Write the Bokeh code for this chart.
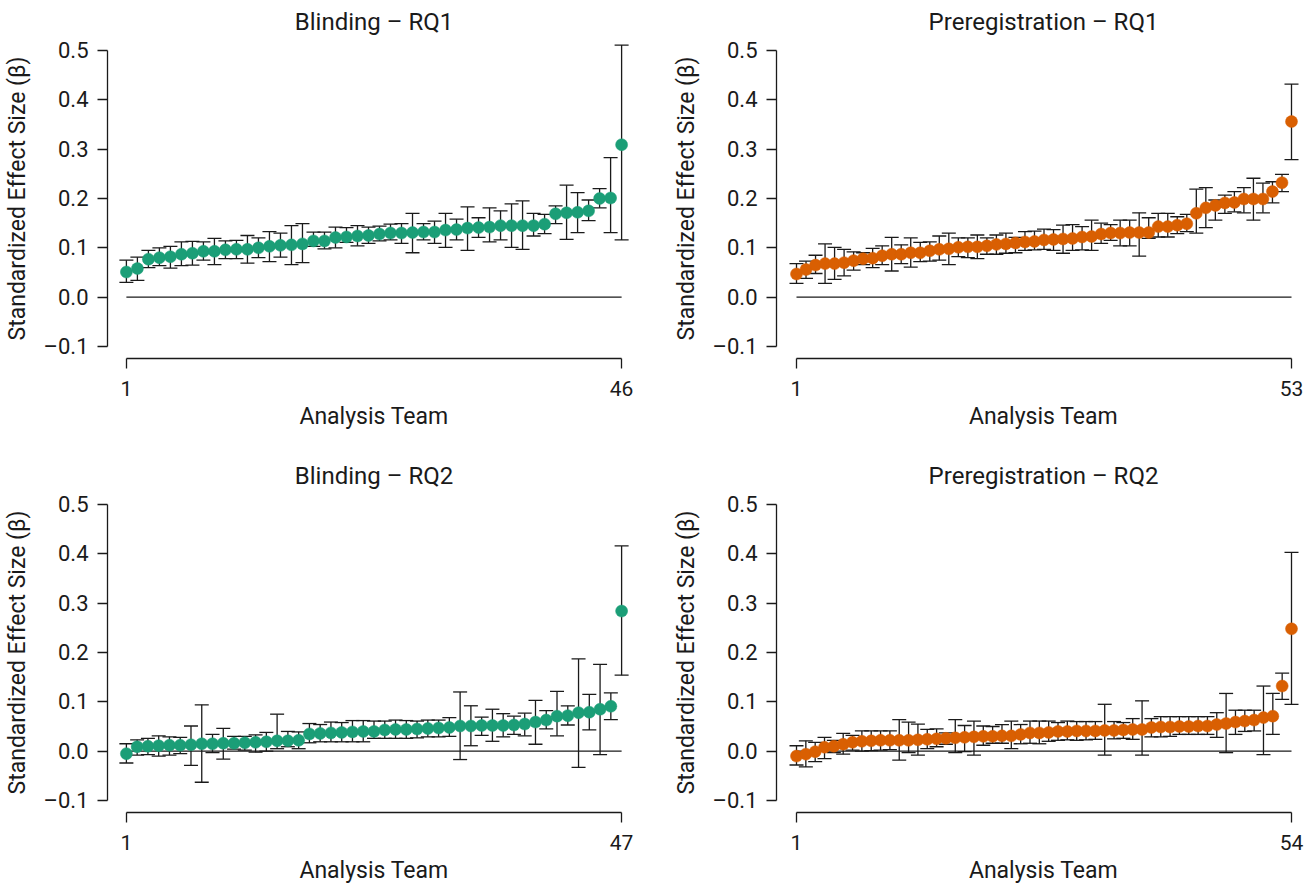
from bokeh.plotting import figure
from bokeh.models import (ColumnDataSource, Range1d, FixedTicker, Whisker, TeeHead,
                          CustomJSTickFormatter)
from bokeh.layouts import column, row
from bokeh.embed import file_html
from bokeh.resources import INLINE

# ---------------- data ----------------
titles = ["Blinding \u2013 RQ1", "Preregistration \u2013 RQ1",
          "Blinding \u2013 RQ2", "Preregistration \u2013 RQ2"]
x_label = "Analysis Team"
y_label = "Standardized Effect Size (\u03b2)"
y_ticks = [-0.1, 0.0, 0.1, 0.2, 0.3, 0.4, 0.5]

blind_rq1_est = [0.051, 0.058, 0.077, 0.080, 0.082, 0.087, 0.089, 0.093, 0.093, 0.096,
                 0.097, 0.097, 0.100, 0.103, 0.105, 0.106, 0.108, 0.114, 0.114, 0.121,
                 0.122, 0.124, 0.125, 0.128, 0.130, 0.130, 0.131, 0.132, 0.132, 0.136,
                 0.137, 0.140, 0.141, 0.142, 0.145, 0.145, 0.145, 0.145, 0.148, 0.169,
                 0.171, 0.172, 0.175, 0.200, 0.201, 0.309]
blind_rq1_lo = [0.030, 0.034, 0.060, 0.064, 0.059, 0.064, 0.065, 0.075, 0.066, 0.078,
                0.078, 0.069, 0.080, 0.072, 0.081, 0.066, 0.070, 0.103, 0.098, 0.100,
                0.111, 0.104, 0.109, 0.114, 0.116, 0.109, 0.090, 0.116, 0.109, 0.101,
                0.116, 0.095, 0.121, 0.112, 0.116, 0.101, 0.097, 0.124, 0.129, 0.149,
                0.117, 0.131, 0.155, 0.181, 0.131, 0.116]
blind_rq1_hi = [0.075, 0.081, 0.095, 0.100, 0.103, 0.112, 0.113, 0.112, 0.119, 0.114,
                0.115, 0.125, 0.120, 0.133, 0.130, 0.145, 0.149, 0.132, 0.132, 0.142,
                0.141, 0.145, 0.142, 0.144, 0.148, 0.149, 0.170, 0.149, 0.154, 0.170,
                0.158, 0.183, 0.161, 0.181, 0.175, 0.189, 0.195, 0.170, 0.168, 0.185,
                0.227, 0.212, 0.197, 0.220, 0.283, 0.511]

prereg_rq1_est = [0.047, 0.056, 0.065, 0.068, 0.068, 0.070, 0.074, 0.078, 0.079, 0.084,
                  0.087, 0.087, 0.090, 0.090, 0.094, 0.097, 0.098, 0.101, 0.102, 0.102,
                  0.104, 0.107, 0.108, 0.110, 0.112, 0.113, 0.116, 0.117, 0.118, 0.119,
                  0.122, 0.123, 0.128, 0.130, 0.130, 0.131, 0.131, 0.131, 0.143, 0.143,
                  0.146, 0.149, 0.170, 0.181, 0.186, 0.191, 0.192, 0.199, 0.199, 0.199,
                  0.214, 0.232, 0.356]
prereg_rq1_lo = [0.028, 0.038, 0.048, 0.028, 0.036, 0.043, 0.055, 0.066, 0.060, 0.066,
                 0.053, 0.068, 0.061, 0.072, 0.073, 0.075, 0.066, 0.082, 0.080, 0.078,
                 0.087, 0.087, 0.089, 0.090, 0.095, 0.096, 0.097, 0.095, 0.089, 0.095,
                 0.096, 0.095, 0.109, 0.115, 0.104, 0.104, 0.083, 0.119, 0.122, 0.122,
                 0.129, 0.133, 0.130, 0.141, 0.156, 0.170, 0.173, 0.171, 0.156, 0.171,
                 0.191, 0.214, 0.279]
prereg_rq1_hi = [0.068, 0.073, 0.085, 0.108, 0.101, 0.097, 0.092, 0.090, 0.099, 0.104,
                 0.121, 0.106, 0.120, 0.111, 0.112, 0.124, 0.130, 0.120, 0.120, 0.126,
                 0.120, 0.126, 0.130, 0.121, 0.133, 0.134, 0.138, 0.137, 0.146, 0.147,
                 0.143, 0.156, 0.150, 0.147, 0.156, 0.156, 0.171, 0.161, 0.170, 0.170,
                 0.163, 0.168, 0.219, 0.222, 0.197, 0.207, 0.214, 0.222, 0.241, 0.231,
                 0.234, 0.249, 0.432]

blind_rq2_est = [-0.005, 0.009, 0.010, 0.011, 0.012, 0.012, 0.013, 0.015, 0.015, 0.016,
                 0.016, 0.017, 0.018, 0.019, 0.021, 0.021, 0.022, 0.035, 0.036, 0.037,
                 0.038, 0.039, 0.040, 0.040, 0.043, 0.044, 0.044, 0.045, 0.046, 0.047,
                 0.048, 0.051, 0.051, 0.052, 0.052, 0.052, 0.053, 0.055, 0.059, 0.063,
                 0.071, 0.072, 0.078, 0.079, 0.085, 0.091, 0.284]
blind_rq2_lo = [-0.024, -0.008, -0.007, -0.010, -0.008, -0.005, -0.029, -0.063, -0.003, -0.016,
                0.004, 0.002, -0.002, 0.000, 0.005, 0.009, 0.005, 0.017, 0.019, 0.019,
                0.019, 0.019, 0.019, 0.026, 0.026, 0.026, 0.026, 0.027, 0.029, 0.029,
                0.030, -0.017, 0.011, 0.032, 0.020, 0.029, 0.034, 0.031, 0.014, 0.045,
                0.031, 0.053, -0.033, 0.043, -0.007, 0.064, 0.154]
blind_rq2_hi = [0.015, 0.023, 0.026, 0.031, 0.029, 0.028, 0.051, 0.094, 0.034, 0.046,
                0.030, 0.030, 0.033, 0.038, 0.075, 0.040, 0.039, 0.056, 0.054, 0.059,
                0.058, 0.062, 0.062, 0.061, 0.061, 0.063, 0.062, 0.061, 0.063, 0.063,
                0.068, 0.120, 0.092, 0.069, 0.085, 0.076, 0.071, 0.077, 0.103, 0.082,
                0.121, 0.092, 0.187, 0.115, 0.176, 0.118, 0.416]

prereg_rq2_est = [-0.010, -0.006, -0.001, 0.008, 0.010, 0.014, 0.018, 0.020, 0.021, 0.022,
                  0.022, 0.022, 0.022, 0.023, 0.024, 0.025, 0.026, 0.027, 0.028, 0.029,
                  0.030, 0.030, 0.031, 0.031, 0.034, 0.037, 0.037, 0.038, 0.040, 0.040,
                  0.041, 0.041, 0.041, 0.042, 0.042, 0.043, 0.044, 0.044, 0.048, 0.049,
                  0.049, 0.050, 0.050, 0.051, 0.051, 0.054, 0.056, 0.059, 0.061, 0.063,
                  0.068, 0.071, 0.132, 0.248]
prereg_rq2_lo = [-0.028, -0.032, -0.021, -0.015, -0.003, -0.006, 0.002, 0.000, 0.001, 0.002,
                 0.003, -0.018, -0.003, -0.008, 0.005, 0.009, 0.014, -0.003, -0.001, -0.008,
                 0.012, 0.016, 0.016, 0.005, 0.015, 0.016, 0.015, 0.020, 0.022, 0.023,
                 0.022, 0.023, 0.024, -0.008, 0.025, 0.026, 0.024, -0.008, 0.029, 0.029,
                 0.030, 0.034, 0.034, 0.034, 0.034, 0.028, -0.003, 0.034, 0.040, 0.041,
                 -0.007, 0.034, 0.105, 0.095]
prereg_rq2_hi = [0.011, 0.021, 0.018, 0.028, 0.022, 0.036, 0.032, 0.041, 0.041, 0.041,
                 0.041, 0.064, 0.059, 0.055, 0.044, 0.045, 0.037, 0.064, 0.052, 0.061,
                 0.051, 0.050, 0.054, 0.061, 0.054, 0.061, 0.061, 0.061, 0.058, 0.061,
                 0.060, 0.060, 0.060, 0.095, 0.060, 0.058, 0.066, 0.102, 0.066, 0.070,
                 0.070, 0.070, 0.070, 0.070, 0.070, 0.078, 0.117, 0.083, 0.083, 0.083,
                 0.132, 0.117, 0.158, 0.403]

GREEN = "#1b9e77"
ORANGE = "#d95f02"
FONT = "Roboto"
INK = "#1a1a1a"


def panel(title, est, lo, hi, color, width, height, mb_left, mb_right, mb_top, mb_bottom,
          pad_l, pad_r):
    n = len(est)
    frame_w = width - mb_left - mb_right
    frame_h = height - mb_top - mb_bottom
    sx = (frame_w - pad_l - pad_r) / (n - 1)
    sy = (frame_h - 24) / 0.6
    xr = Range1d(1 - pad_l / sx, n + pad_r / sx)
    yr = Range1d(-0.1 - 12 / sy, 0.5 + 12 / sy)
    p = figure(width=width, height=height, x_range=xr, y_range=yr,
               output_backend="svg", toolbar_location=None,
               min_border_left=mb_left, min_border_right=mb_right,
               min_border_top=mb_top, min_border_bottom=mb_bottom)
    p.outline_line_color = None
    p.grid.visible = False
    p.background_fill_color = "white"
    p.border_fill_color = "white"

    p.title.text = title
    p.title.align = "center"
    p.title.text_font = FONT
    p.title.text_font_size = "24px"
    p.title.text_font_style = "normal"
    p.title.text_color = INK
    p.title.standoff = 6

    teams = list(range(1, n + 1))
    src = ColumnDataSource(dict(x=teams, est=est, lo=lo, hi=hi))

    # zero reference line from first to last team
    p.line(x=[teams[0], teams[-1]], y=[0, 0], line_color=INK, line_width=1.3)

    wh = Whisker(base="x", lower="lo", upper="hi", source=src,
                 line_color=INK, line_width=1.3, level="underlay",
                 upper_head=TeeHead(size=14, line_color=INK, line_width=1.3),
                 lower_head=TeeHead(size=14, line_color=INK, line_width=1.3))
    p.add_layout(wh)
    p.scatter(x="x", y="est", source=src, size=12, fill_color=color,
              line_color=color, line_width=0.5)

    # axes
    for ax in (p.xaxis[0], p.yaxis[0]):
        ax.axis_line_color = INK
        ax.axis_line_width = 1.3
        ax.major_tick_line_color = INK
        ax.major_tick_line_width = 1.3
        ax.major_tick_out = 10
        ax.major_tick_in = 0
        ax.minor_tick_line_color = None
        ax.major_label_text_color = INK
        ax.major_label_text_font = FONT
        ax.axis_label_text_font = FONT
        ax.axis_label_text_font_size = "23px"
        ax.axis_label_text_font_style = "normal"
        ax.axis_label_text_color = INK

    xa = p.xaxis[0]
    xa.ticker = FixedTicker(ticks=[teams[0], teams[-1]])
    xa.bounds = (teams[0], teams[-1])
    xa.axis_label = x_label
    xa.major_label_text_font_size = "21px"
    xa.major_label_standoff = 12
    xa.axis_label_standoff = 4

    ya = p.yaxis[0]
    ya.ticker = FixedTicker(ticks=y_ticks)
    ya.bounds = (y_ticks[0], y_ticks[-1])
    ya.axis_label = y_label
    ya.major_label_text_font_size = "22px"
    ya.major_label_standoff = 9
    ya.axis_label_standoff = 10
    ya.major_label_orientation = "horizontal"
    ya.formatter = CustomJSTickFormatter(
        code="return tick < -0.001 ? '\u2013' + Math.abs(tick).toFixed(1) : tick.toFixed(1);")
    return p


p1 = panel(titles[0], blind_rq1_est, blind_rq1_lo, blind_rq1_hi, GREEN,
           656, 454, 104, 16, 38, 96, 19, 19)
p2 = panel(titles[1], prereg_rq1_est, prereg_rq1_lo, prereg_rq1_hi, ORANGE,
           656, 454, 120, 2, 38, 96, 20, 19)
p3 = panel(titles[2], blind_rq2_est, blind_rq2_lo, blind_rq2_hi, GREEN,
           656, 434, 104, 16, 38, 76, 19, 19)
p4 = panel(titles[3], prereg_rq2_est, prereg_rq2_lo, prereg_rq2_hi, ORANGE,
           656, 434, 120, 2, 38, 76, 20, 19)

layout = column(row(p1, p2), row(p3, p4))
open("out.html", "w").write(file_html(layout, INLINE))
